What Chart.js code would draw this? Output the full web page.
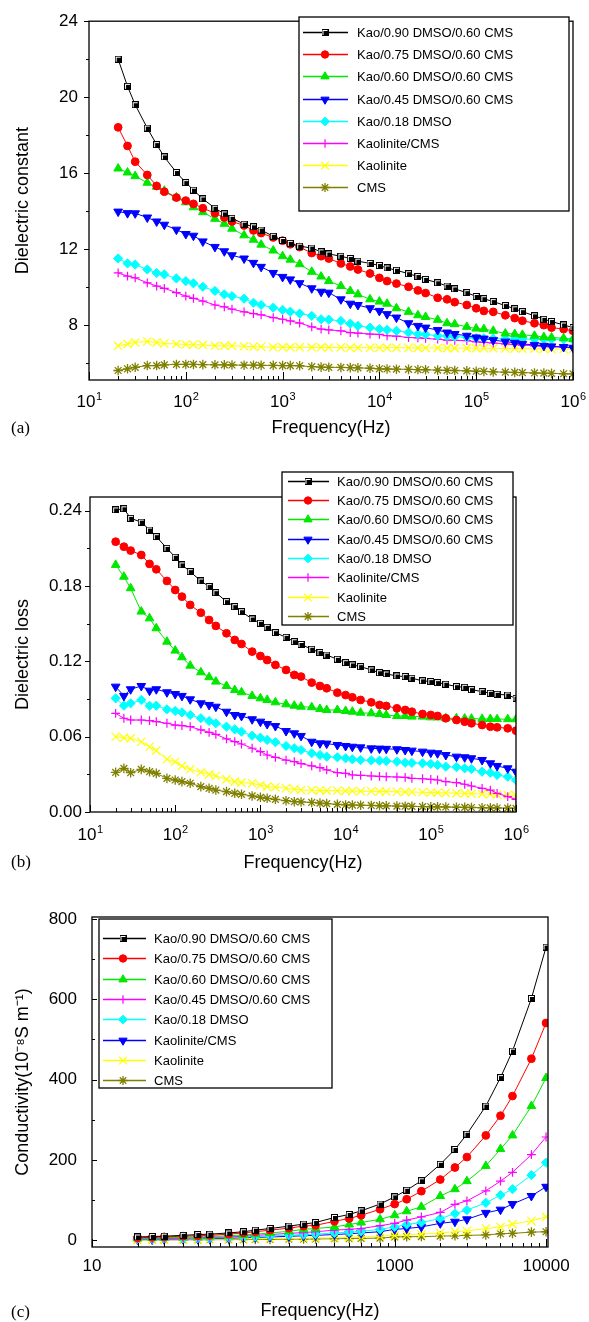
<!DOCTYPE html>
<html>
<head>
<meta charset="utf-8">
<title>Dielectric constant, loss and conductivity</title>
<script src="https://cdn.jsdelivr.net/npm/chart.js@4.4.1/dist/chart.umd.min.js"></script>
<style>
    body { margin: 0; background: #fff; width: 589px; height: 1322px; position: relative; overflow: hidden; }
    canvas { position: absolute; left: 0; }
    .painel { position: absolute; left: 11px; font: 17px "Liberation Serif", "Times New Roman", serif; line-height: 1; }
</style>
</head>
<body>
<canvas id="grafA" width="589" height="440" style="top:0px"></canvas>
<canvas id="grafB" width="589" height="440" style="top:440px"></canvas>
<canvas id="grafC" width="589" height="442" style="top:880px"></canvas>
<div class="painel" style="top:419px">(a)</div>
<div class="painel" style="top:853px">(b)</div>
<div class="painel" style="top:1303px">(c)</div>
<script>
// frequencias (Hz) dos graficos (a) e (b)
var freqAB = [20, 25, 30, 40, 50, 60, 80,
    100, 120, 150, 200, 250, 300, 400, 500, 600, 800,
    1000, 1200, 1500, 2000, 2500, 3000, 4000, 5000, 6000, 8000,
    1e4, 1.2e4, 1.5e4, 2e4, 2.5e4, 3e4, 4e4, 5e4, 6e4, 8e4,
    1e5, 1.2e5, 1.5e5, 2e5, 2.5e5, 3e5, 4e5, 5e5, 6e5, 8e5,
    1e6];
// frequencias (Hz) do grafico (c)
var freqC = [20, 25, 30, 40, 50, 60, 80,
    100, 120, 150, 200, 250, 300, 400, 500, 600, 800,
    1000, 1200, 1500, 2000, 2500, 3000, 4000, 5000, 6000, 8000,
    10000];

var nomes = ['Kao/0.90 DMSO/0.60 CMS', 'Kao/0.75 DMSO/0.60 CMS', 'Kao/0.60 DMSO/0.60 CMS',
    'Kao/0.45 DMSO/0.60 CMS', 'Kao/0.18 DMSO', 'Kaolinite/CMS', 'Kaolinite', 'CMS'];

// (a) constante dieletrica
var k90A = [22.0, 20.57, 19.6, 18.37, 17.5, 16.85, 16.03, 15.5, 15.1, 14.64, 14.15, 13.85, 13.62, 13.31, 13.17, 13.0, 12.67, 12.45, 12.3, 12.15, 12.05, 11.85, 11.74, 11.62, 11.5, 11.36, 11.24, 11.13, 11.0, 10.88, 10.7, 10.55, 10.4, 10.22, 10.05, 9.9, 9.7, 9.5, 9.38, 9.23, 9.02, 8.85, 8.7, 8.48, 8.3, 8.18, 8.0, 7.86];
var k75A = [18.41, 17.43, 16.6, 15.9, 15.32, 15.02, 14.71, 14.55, 14.38, 14.15, 13.89, 13.66, 13.45, 13.24, 12.98, 12.84, 12.61, 12.44, 12.25, 12.1, 11.79, 11.62, 11.5, 11.24, 11.08, 10.92, 10.71, 10.48, 10.31, 10.18, 10.01, 9.82, 9.68, 9.43, 9.35, 9.2, 9.05, 8.88, 8.74, 8.69, 8.51, 8.36, 8.22, 8.09, 7.99, 7.86, 7.78, 7.69];
var k60A = [16.24, 16.03, 15.84, 15.49, 15.28, 15.07, 14.72, 14.46, 14.2, 13.94, 13.59, 13.33, 13.07, 12.72, 12.49, 12.23, 11.92, 11.62, 11.44, 11.2, 10.8, 10.55, 10.31, 10.05, 9.79, 9.61, 9.35, 9.23, 9.12, 8.88, 8.69, 8.51, 8.42, 8.27, 8.09, 8.04, 7.9, 7.81, 7.78, 7.69, 7.55, 7.52, 7.48, 7.43, 7.36, 7.34, 7.3, 7.25];
var k45A = [13.97, 13.89, 13.88, 13.66, 13.45, 13.28, 13.02, 12.79, 12.7, 12.4, 12.11, 11.88, 11.67, 11.5, 11.27, 11.06, 10.74, 10.53, 10.4, 10.2, 9.93, 9.75, 9.7, 9.35, 9.12, 9.05, 8.88, 8.74, 8.57, 8.39, 8.09, 7.95, 7.86, 7.73, 7.6, 7.52, 7.43, 7.34, 7.28, 7.2, 7.12, 7.06, 7.0, 6.95, 6.9, 6.87, 6.84, 6.8];
var k18A = [11.5, 11.24, 11.18, 10.92, 10.74, 10.66, 10.45, 10.31, 10.19, 10.01, 9.79, 9.61, 9.52, 9.38, 9.17, 9.05, 8.91, 8.79, 8.7, 8.6, 8.48, 8.3, 8.28, 8.21, 8.07, 7.95, 7.86, 7.78, 7.74, 7.69, 7.6, 7.52, 7.5, 7.43, 7.42, 7.38, 7.35, 7.31, 7.3, 7.28, 7.27, 7.26, 7.26, 7.25, 7.25, 7.24, 7.24, 7.22];
var kKcA = [10.74, 10.57, 10.48, 10.22, 10.05, 9.93, 9.7, 9.52, 9.4, 9.26, 9.05, 8.95, 8.83, 8.69, 8.6, 8.53, 8.39, 8.3, 8.21, 8.1, 7.9, 7.78, 7.74, 7.69, 7.6, 7.57, 7.52, 7.5, 7.43, 7.41, 7.34, 7.32, 7.29, 7.25, 7.2, 7.19, 7.17, 7.11, 7.08, 7.05, 7.0, 6.97, 6.94, 6.9, 6.87, 6.85, 6.83, 6.8];
var kKaoA = [6.9, 7.0, 7.08, 7.13, 7.08, 7.02, 7.0, 6.97, 6.96, 6.95, 6.9, 6.9, 6.9, 6.88, 6.85, 6.85, 6.83, 6.82, 6.82, 6.82, 6.82, 6.82, 6.81, 6.81, 6.8, 6.8, 6.8, 6.8, 6.8, 6.8, 6.8, 6.79, 6.79, 6.79, 6.78, 6.78, 6.78, 6.78, 6.77, 6.77, 6.76, 6.76, 6.75, 6.75, 6.74, 6.74, 6.73, 6.73];
var kCmsA = [5.6, 5.69, 5.77, 5.86, 5.86, 5.9, 5.92, 5.92, 5.92, 5.91, 5.9, 5.9, 5.89, 5.88, 5.88, 5.87, 5.87, 5.86, 5.86, 5.85, 5.8, 5.78, 5.77, 5.76, 5.75, 5.74, 5.72, 5.69, 5.68, 5.67, 5.66, 5.65, 5.64, 5.62, 5.61, 5.6, 5.58, 5.56, 5.55, 5.53, 5.51, 5.5, 5.49, 5.47, 5.46, 5.45, 5.43, 5.42];

// (b) perda dieletrica
var p90B = [0.2407, 0.2416, 0.234, 0.231, 0.2247, 0.2194, 0.2101, 0.203, 0.1969, 0.1915, 0.1841, 0.1796, 0.1748, 0.1676, 0.1636, 0.1596, 0.1538, 0.1504, 0.1472, 0.1429, 0.1392, 0.1357, 0.1335, 0.1297, 0.127, 0.1251, 0.1217, 0.119, 0.1172, 0.1158, 0.1132, 0.111, 0.11, 0.1084, 0.1079, 0.1066, 0.1045, 0.1039, 0.1031, 0.1018, 0.0999, 0.0994, 0.0975, 0.0959, 0.0946, 0.0938, 0.0932, 0.0906];
var p75B = [0.2154, 0.2114, 0.2083, 0.2048, 0.1977, 0.1934, 0.1841, 0.1769, 0.1716, 0.165, 0.1588, 0.153, 0.1483, 0.1424, 0.1371, 0.1339, 0.1278, 0.1243, 0.1211, 0.1172, 0.1132, 0.1092, 0.1079, 0.1031, 0.1004, 0.0986, 0.0951, 0.0932, 0.0914, 0.0893, 0.0874, 0.0853, 0.0845, 0.0826, 0.0813, 0.0799, 0.0781, 0.0773, 0.0765, 0.0747, 0.0733, 0.072, 0.0707, 0.0693, 0.068, 0.0675, 0.0667, 0.0648];
var p60B = [0.1969, 0.1875, 0.1783, 0.1597, 0.1543, 0.1464, 0.1357, 0.1286, 0.1233, 0.1166, 0.1113, 0.1074, 0.1039, 0.1004, 0.0972, 0.0954, 0.0925, 0.0906, 0.0893, 0.0874, 0.0858, 0.0847, 0.0839, 0.0835, 0.0821, 0.0813, 0.0813, 0.0805, 0.0799, 0.0791, 0.0786, 0.0781, 0.0773, 0.0765, 0.0765, 0.076, 0.076, 0.0754, 0.0754, 0.0747, 0.0747, 0.0745, 0.0744, 0.0742, 0.0741, 0.074, 0.074, 0.0739];
var p45B = [0.0999, 0.0925, 0.0978, 0.1004, 0.0967, 0.0978, 0.0954, 0.094, 0.0925, 0.0898, 0.0866, 0.0853, 0.0839, 0.0799, 0.0773, 0.0765, 0.0739, 0.072, 0.0701, 0.0685, 0.0645, 0.0627, 0.0606, 0.056, 0.0547, 0.0545, 0.0534, 0.0526, 0.052, 0.0515, 0.0507, 0.0505, 0.0503, 0.05, 0.0494, 0.0489, 0.0481, 0.0473, 0.0468, 0.0454, 0.0441, 0.0436, 0.0428, 0.0414, 0.0388, 0.0367, 0.0348, 0.0321];
var p18B = [0.0906, 0.0847, 0.0866, 0.0893, 0.0847, 0.0847, 0.0818, 0.0805, 0.0794, 0.0773, 0.0747, 0.0725, 0.0707, 0.068, 0.0659, 0.064, 0.0608, 0.0592, 0.0574, 0.0556, 0.0526, 0.0508, 0.0494, 0.0468, 0.0454, 0.0441, 0.0436, 0.0428, 0.042, 0.0414, 0.0412, 0.0409, 0.0406, 0.0401, 0.0393, 0.0391, 0.0388, 0.0383, 0.0375, 0.0361, 0.0358, 0.0348, 0.0342, 0.0321, 0.0313, 0.0295, 0.0281, 0.0255];
var pKcB = [0.0786, 0.0747, 0.0733, 0.0733, 0.0728, 0.072, 0.0707, 0.0693, 0.0688, 0.068, 0.0654, 0.0635, 0.0619, 0.0582, 0.056, 0.0542, 0.0508, 0.0481, 0.0454, 0.0436, 0.0414, 0.0401, 0.0385, 0.0367, 0.0353, 0.0335, 0.0313, 0.0308, 0.0295, 0.0292, 0.0287, 0.0284, 0.0281, 0.0279, 0.0276, 0.0268, 0.0265, 0.026, 0.0255, 0.0242, 0.0234, 0.0221, 0.0207, 0.0189, 0.0175, 0.0149, 0.0122, 0.0101];
var pKaoB = [0.06, 0.0592, 0.0587, 0.056, 0.052, 0.0489, 0.042, 0.0401, 0.0367, 0.034, 0.0316, 0.03, 0.0287, 0.026, 0.0242, 0.0234, 0.0229, 0.0215, 0.0202, 0.0198, 0.0189, 0.0181, 0.0175, 0.0173, 0.0172, 0.017, 0.0169, 0.0168, 0.0167, 0.0166, 0.0165, 0.0164, 0.0163, 0.0161, 0.016, 0.0159, 0.0157, 0.0155, 0.0154, 0.0152, 0.015, 0.0148, 0.0146, 0.0144, 0.0141, 0.0139, 0.0136, 0.0133];
var pCmsB = [0.0316, 0.0348, 0.0313, 0.034, 0.0321, 0.0308, 0.0268, 0.0255, 0.0242, 0.0229, 0.0202, 0.0189, 0.0175, 0.0162, 0.0149, 0.0141, 0.0128, 0.0117, 0.0109, 0.0101, 0.009, 0.0082, 0.008, 0.0076, 0.0071, 0.0067, 0.0061, 0.0056, 0.0055, 0.0054, 0.0052, 0.005, 0.0049, 0.0047, 0.0046, 0.0045, 0.0043, 0.0042, 0.0041, 0.004, 0.0038, 0.0037, 0.0036, 0.0034, 0.0033, 0.0032, 0.0031, 0.003];

// (c) condutividade (10^-8 S/m)
var c90C = [8, 9, 10, 12, 14, 15, 18, 21, 25, 29, 35, 40, 44, 56.5, 64, 73, 90, 108, 124.5, 148, 189, 226, 264, 334, 405, 471, 602, 730];
var c75C = [6, 7, 8, 10, 11, 12, 15, 18, 21, 25, 30, 35, 37, 47, 54, 62, 77, 90, 102, 122, 151, 181, 207, 261, 310, 359, 452, 541];
var c60C = [4, 5, 6, 7, 8, 9, 11, 13, 15, 18, 22, 27, 29, 33, 39, 44, 52, 62, 72, 83, 110, 127, 147, 185, 227, 261, 334, 404];
var c45C = [3, 3.5, 4, 5, 6, 7, 8, 10, 12, 14, 17, 19, 21, 25, 27, 29, 36, 42, 50, 58, 69, 89, 98, 123, 147, 169, 213, 257];
var c18C = [2.5, 3, 3.5, 4, 5, 5.5, 7, 8, 9, 10.5, 12.5, 14, 15, 18, 20, 22, 27, 33, 39, 44, 54, 66, 75, 93, 112, 127, 162, 193];
var cKcC = [2, 2.2, 2.5, 3, 3.5, 4, 5, 6, 7, 8, 9.5, 11, 12, 14, 16, 18, 21, 27, 29, 33, 42, 46, 52, 68, 76, 90, 110, 133];
var cKaoC = [1, 1.2, 1.4, 1.7, 2, 2.3, 2.8, 3.2, 3.6, 4.2, 4.8, 5.2, 5.5, 6, 7, 8, 10, 12, 13, 15, 18, 21, 23, 29, 33, 40, 48, 58];
var cCmsC = [0.5, 0.6, 0.7, 0.9, 1, 1.2, 1.4, 1.6, 1.8, 2.1, 2.5, 2.8, 3, 3.6, 4.1, 4.5, 5, 8, 8.5, 9, 10, 11, 12, 13, 16, 17, 20, 21];

// marcas dos eixos
var ticksYA = [8, 12, 16, 20, 24];
var menoresYA = [6, 10, 14, 18, 22];
var ticksYB = [0, 0.06, 0.12, 0.18, 0.24];
var menoresYB = [0.03, 0.09, 0.15, 0.21];
var ticksYC = [0, 200, 400, 600, 800];
var menoresYC = [100, 300, 500, 700];
var ticksXAB = [1e1, 1e2, 1e3, 1e4, 1e5, 1e6];
var ticksXC = [10, 100, 1000, 10000];

var coresAB = ['#000000', '#ff0000', '#00e800', '#0000ff', '#00ffff', '#ff00ff', '#ffff00', '#808000'];
var simbolosAB = ['sq', 'circle', 'triangle', 'tridown', 'rectRot', 'cross', 'crossRot', 'star'];
var coresC = ['#000000', '#ff0000', '#00e800', '#ff00ff', '#00ffff', '#0000ff', '#ffff00', '#808000'];
var simbolosC = ['sq', 'circle', 'triangle', 'cross', 'rectRot', 'tridown', 'crossRot', 'star'];

var FONTE = '"Liberation Sans", Arial, sans-serif';
Chart.defaults.font.family = FONTE;
Chart.defaults.font.size = 17;
Chart.defaults.color = '#000';
Chart.defaults.animation = false;

function menores(decadas) {
    var lista = [];
    for (var d = 0; d < decadas.length; d++) {
        for (var m = 2; m <= 9; m++) lista.push(m * decadas[d]);
    }
    return lista;
}

// quadrado preto com borda interna branca
function quadrado() {
    var c = document.createElement('canvas');
    c.width = 7; c.height = 7;
    var g = c.getContext('2d');
    g.fillStyle = '#000'; g.fillRect(0, 0, 7, 7);
    g.fillStyle = '#fff'; g.fillRect(1, 1, 5, 5);
    g.fillStyle = '#000'; g.fillRect(2, 2, 4, 4);
    return c;
}
var marcaQuadrado = quadrado();

function estilo(simbolo, cor) {
    var e = { pointStyle: simbolo, pointRadius: 4, pointBorderWidth: 1, pointRotation: 0,
        pointBackgroundColor: cor, pointBorderColor: cor };
    if (simbolo == 'sq') { e.pointStyle = marcaQuadrado; }
    if (simbolo == 'circle') { e.pointRadius = 3.9; }
    if (simbolo == 'triangle') { e.pointRadius = 5; }
    if (simbolo == 'tridown') { e.pointStyle = 'triangle'; e.pointRotation = 180; e.pointRadius = 5; }
    if (simbolo == 'rectRot') { e.pointRadius = 4.6; }
    if (simbolo == 'cross') { e.pointRadius = 4.4; e.pointBorderWidth = 1.2; }
    if (simbolo == 'crossRot') { e.pointRadius = 5.8; e.pointBorderWidth = 1.2; }
    if (simbolo == 'star') { e.pointRadius = 4.8; e.pointBorderWidth = 1.3; }
    return e;
}

function montarSeries(freq, valores, cores, simbolos) {
    return nomes.map(function (nome, i) {
        var ds = {
            label: nome,
            data: freq.map(function (f, j) { return { x: f, y: valores[i][j] }; }),
            borderColor: cores[i],
            backgroundColor: cores[i],
            borderWidth: 1,
            tension: 0
        };
        return Object.assign(ds, estilo(simbolos[i], cores[i]));
    });
}

// caixa do grafico, marcas dos eixos e rotulos 10^n
function moldura(cfg) {
    return {
        id: 'moldura',
        afterDraw: function (chart) {
            var ctx = chart.ctx, a = chart.chartArea;
            var sx = chart.scales.x, sy = chart.scales.y;
            ctx.save();
            ctx.strokeStyle = '#000';
            ctx.lineWidth = 1;
            ctx.beginPath();
            function marcaX(v, len) {
                var p = Math.round(sx.getPixelForValue(v)) + 0.5;
                ctx.moveTo(p, a.bottom); ctx.lineTo(p, a.bottom - len);
            }
            function marcaY(v, len) {
                var p = Math.round(sy.getPixelForValue(v)) + 0.5;
                var d = cfg.yDentro ? len : -len;
                ctx.moveTo(a.left, p); ctx.lineTo(a.left + d, p);
            }
            cfg.xMaior.forEach(function (v) { marcaX(v, cfg.xLen[0]); });
            cfg.xMenor.forEach(function (v) { marcaX(v, cfg.xLen[1]); });
            cfg.yMaior.forEach(function (v) { marcaY(v, cfg.yLen[0]); });
            cfg.yMenor.forEach(function (v) { marcaY(v, cfg.yLen[1]); });
            ctx.stroke();
            ctx.lineWidth = 1.3;
            ctx.strokeRect(a.left, a.top, a.right - a.left, a.bottom - a.top);

            if (cfg.potencias) {
                ctx.fillStyle = '#000';
                ctx.textAlign = 'left';
                ctx.textBaseline = 'alphabetic';
                cfg.xMaior.forEach(function (v) {
                    var p = sx.getPixelForValue(v);
                    var exp = String(Math.round(Math.log10(v)));
                    ctx.font = '17px ' + FONTE;
                    var w1 = ctx.measureText('10').width;
                    ctx.font = '11px ' + FONTE;
                    var w2 = ctx.measureText(exp).width;
                    var x0 = p - (w1 + w2) / 2;
                    ctx.font = '17px ' + FONTE;
                    ctx.fillText('10', x0, cfg.base);
                    ctx.font = '11px ' + FONTE;
                    ctx.fillText(exp, x0 + w1 + 0.5, cfg.base - 7);
                });
            }
            ctx.restore();
        }
    };
}

function legenda(cx) {
    return {
        id: 'legenda',
        afterDraw: function (chart) {
            var ctx = chart.ctx;
            ctx.save();
            ctx.fillStyle = '#fff';
            ctx.fillRect(cx.x, cx.y, cx.w, cx.h);
            ctx.strokeStyle = '#000';
            ctx.lineWidth = 1.3;
            ctx.strokeRect(cx.x, cx.y, cx.w, cx.h);
            ctx.font = '13px ' + FONTE;
            ctx.textBaseline = 'middle';
            ctx.textAlign = 'left';
            chart.data.datasets.forEach(function (ds, i) {
                var y = Math.round(cx.linha0 + i * cx.passo) + 0.5;
                ctx.strokeStyle = ds.borderColor;
                ctx.lineWidth = 1.3;
                ctx.beginPath();
                ctx.moveTo(cx.l0, y); ctx.lineTo(cx.l1, y);
                ctx.stroke();
                ctx.fillStyle = ds.borderColor;
                ctx.lineWidth = ds.pointBorderWidth;
                Chart.helpers.drawPoint(ctx, {
                    pointStyle: ds.pointStyle, rotation: ds.pointRotation,
                    radius: ds.pointRadius * 0.95, borderWidth: ds.pointBorderWidth
                }, cx.marca, y);
                ctx.fillStyle = '#000';
                ctx.fillText(ds.label, cx.texto, y + 0.5);
            });
            ctx.restore();
        }
    };
}

function eixoX(cfg) {
    return {
        type: 'logarithmic', min: cfg.min, max: cfg.max,
        grid: { display: false, drawTicks: false },
        border: { display: false },
        ticks: cfg.ticks,
        afterBuildTicks: function (s) { s.ticks = cfg.marcas.map(function (v) { return { value: v }; }); },
        afterFit: function (s) { s.height = cfg.altura; },
        title: { display: true, text: 'Frequency(Hz)', font: { size: 18 }, color: '#000', padding: { top: 0, bottom: cfg.pb } }
    };
}

function eixoY(cfg) {
    return {
        type: 'linear', min: cfg.min, max: cfg.max,
        grid: { display: false, drawTicks: false },
        border: { display: false },
        ticks: { padding: cfg.padding, font: { size: 17 }, color: '#000', callback: cfg.formato },
        afterBuildTicks: function (s) { s.ticks = cfg.marcas.map(function (v) { return { value: v }; }); },
        afterFit: function (s) { s.width = cfg.largura; },
        title: { display: true, text: cfg.titulo, font: { size: 18 }, color: '#000', padding: { top: 12, bottom: 0 } }
    };
}

var decadasAB = [1e1, 1e2, 1e3, 1e4, 1e5];
var decadasC = [10, 100, 1000];

// (a) Dielectric constant
new Chart(document.getElementById('grafA'), {
    type: 'line',
    data: { datasets: montarSeries(freqAB, [k90A, k75A, k60A, k45A, k18A, kKcA, kKaoA, kCmsA], coresAB, simbolosAB) },
    options: {
        responsive: false, events: [],
        layout: { padding: { top: 18, right: 16, bottom: 0, left: 0 } },
        plugins: { legend: { display: false }, tooltip: { enabled: false } },
        scales: {
            x: eixoX({ min: 10, max: 1e6, marcas: ticksXAB, ticks: { display: false }, altura: 60, pb: 1 }),
            y: eixoY({ min: 5.1, max: 24, marcas: ticksYA, padding: 11, largura: 89, titulo: 'Dielectric constant',
                formato: function (v) { return String(v); } })
        }
    },
    plugins: [
        moldura({ xMaior: ticksXAB, xMenor: menores(decadasAB), yMaior: ticksYA, yMenor: menoresYA,
            xLen: [8, 4], yLen: [5, 3], yDentro: false, potencias: true, base: 406.5 }),
        legenda({ x: 299, y: 17, w: 270, h: 194, linha0: 32, passo: 22.2, l0: 303, l1: 348, marca: 325, texto: 357 })
    ]
});

// (b) Dielectric loss
new Chart(document.getElementById('grafB'), {
    type: 'line',
    data: { datasets: montarSeries(freqAB, [p90B, p75B, p60B, p45B, p18B, pKcB, pKaoB, pCmsB], coresAB, simbolosAB) },
    options: {
        responsive: false, events: [],
        layout: { padding: { top: 57, right: 73, bottom: 0, left: 0 } },
        plugins: { legend: { display: false }, tooltip: { enabled: false } },
        scales: {
            x: eixoX({ min: 10, max: 1e6, marcas: ticksXAB, ticks: { display: false }, altura: 68, pb: 6 }),
            y: eixoY({ min: 0, max: 0.251, marcas: ticksYB, padding: 8, largura: 90, titulo: 'Dielectric loss',
                formato: function (v) { return v.toFixed(2); } })
        }
    },
    plugins: [
        moldura({ xMaior: ticksXAB, xMenor: menores(decadasAB), yMaior: ticksYB, yMenor: menoresYB,
            xLen: [7, 4], yLen: [5, 3], yDentro: false, potencias: true, base: 400 }),
        legenda({ x: 282, y: 32, w: 231, h: 153, linha0: 40.7, passo: 19.33, l0: 288, l1: 329, marca: 308, texto: 337 })
    ]
});

// (c) Conductivity
new Chart(document.getElementById('grafC'), {
    type: 'line',
    data: { datasets: montarSeries(freqC, [c90C, c75C, c60C, c45C, c18C, cKcC, cKaoC, cCmsC], coresC, simbolosC) },
    options: {
        responsive: false, events: [],
        layout: { padding: { top: 37, right: 41, bottom: 0, left: 0 } },
        plugins: { legend: { display: false }, tooltip: { enabled: false } },
        scales: {
            x: eixoX({ min: 10, max: 10300, marcas: ticksXC, altura: 75, pb: 0,
                ticks: { padding: 9, maxRotation: 0, autoSkip: false, font: { size: 17 }, color: '#000',
                    callback: function (v) { return String(v); } } }),
            y: eixoY({ min: -17, max: 805, marcas: ticksYC, padding: 15, largura: 92, titulo: 'Conductivity(10\u207B\u2078S m\u207B\u00B9)',
                formato: function (v) { return String(v); } })
        }
    },
    plugins: [
        moldura({ xMaior: ticksXC, xMenor: menores(decadasC), yMaior: ticksYC, yMenor: menoresYC,
            xLen: [8, 4], yLen: [5, 3], yDentro: true, potencias: false }),
        legenda({ x: 99, y: 39, w: 233, h: 169, linha0: 58, passo: 20.3, l0: 103, l1: 146, marca: 123, texto: 154 })
    ]
});
</script>
</body>
</html>
